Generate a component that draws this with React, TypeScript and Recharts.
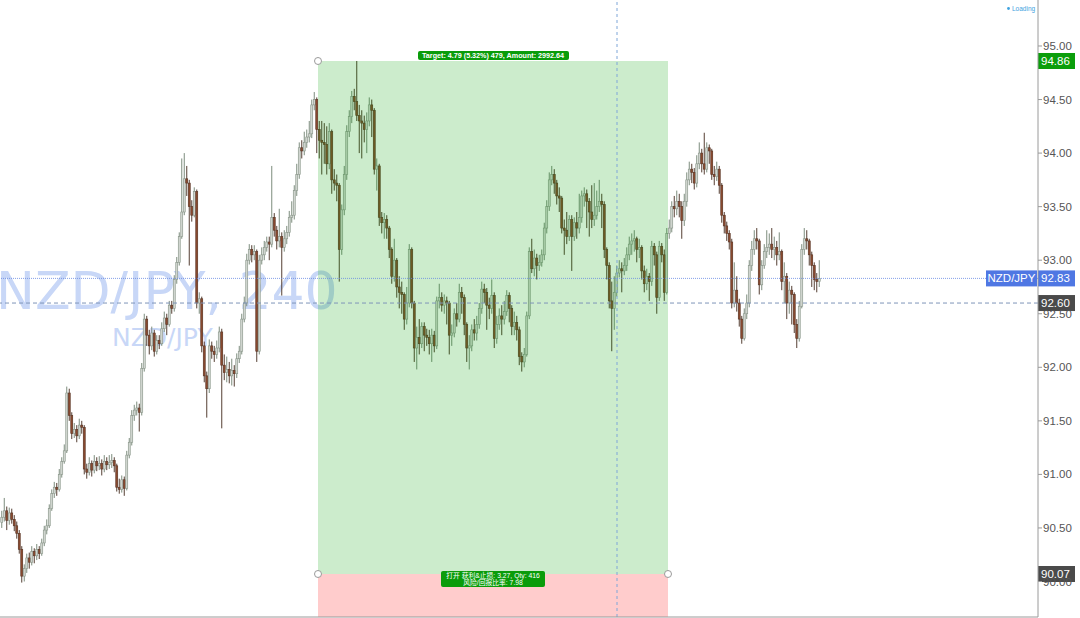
import React from "react";
import {
  ComposedChart,
  Bar,
  XAxis,
  YAxis,
  ReferenceArea,
  ReferenceLine,
  ReferenceDot,
} from "recharts";

// NZD/JPY 240 candles (approximate)
const opens = [
  90.55, 90.6, 90.66, 90.57, 90.64, 90.58, 90.52, 90.45, 90.3, 90.05,
  90.12, 90.22, 90.18, 90.28, 90.24, 90.3, 90.26, 90.36, 90.48, 90.52,
  90.68, 90.82, 90.88, 90.86, 91.0, 91.12, 91.22, 91.76, 91.55, 91.38,
  91.42, 91.36, 91.46, 91.44, 91.05, 91.02, 91.1, 91.04, 91.12, 91.08,
  91.1, 91.05, 91.12, 91.09, 91.11, 91.13, 91.08, 90.88, 90.86, 90.95,
  90.87, 91.18, 91.3, 91.55, 91.6, 91.62, 91.58, 91.99, 92.45, 92.3,
  92.2, 92.32, 92.15, 92.25, 92.22, 92.36, 92.46, 92.4, 92.58, 92.55,
  92.82, 92.98, 93.22, 93.45, 93.76, 93.72, 93.5, 93.42, 93.64, 92.6,
  92.64, 92.2, 91.92, 91.8, 92.2, 92.15, 92.12, 92.18, 92.33, 92.02,
  91.95, 91.98, 91.92, 91.97, 91.94, 92.08, 92.15, 92.45, 92.6, 93.0,
  93.1, 93.05, 93.08, 92.15, 93.0, 93.05, 93.12, 93.17, 93.15, 93.4,
  93.28, 93.18, 93.22, 93.12, 93.2, 93.26, 93.4, 93.42, 93.65, 93.8,
  94.05, 94.02, 94.1, 94.15, 94.18, 94.45, 94.5, 94.22, 94.12, 94.1,
  94.08, 93.9, 94.2, 93.75, 93.72, 93.7, 93.1, 93.47, 93.8, 94.2,
  94.34, 94.53, 94.48, 94.35, 94.3, 94.28, 94.22, 94.3, 94.45, 94.4,
  93.85, 93.88, 93.4, 93.35, 93.38, 93.3, 93.1, 92.85, 93.0, 92.75,
  92.7, 92.68, 92.45, 92.6, 93.1, 92.6, 92.18, 92.28, 92.22, 92.38,
  92.3, 92.28, 92.22, 92.3, 92.2, 92.62, 92.65, 92.58, 92.62, 92.6,
  92.3, 92.32, 92.5, 92.45, 92.7, 92.65, 92.4, 92.18, 92.2, 92.35,
  92.32, 92.4, 92.55, 92.73, 92.7, 92.58, 92.55, 92.67, 92.27, 92.4,
  92.48, 92.45, 92.52, 92.67, 92.55, 92.38, 92.42, 92.35, 92.1, 92.05,
  92.12, 92.48, 93.08, 92.92, 93.02, 92.95, 92.98, 93.05, 93.3, 93.5,
  93.75, 93.8, 93.72, 93.6, 93.58, 93.3, 93.28, 93.22, 93.38, 93.22,
  93.35, 93.3, 93.4, 93.6, 93.62, 93.55, 93.45, 93.38, 93.42, 93.5,
  93.55, 93.52, 93.1, 92.95, 92.62, 92.55, 92.7, 92.88, 92.92, 92.9,
  92.95, 93.05, 93.15, 93.18, 93.2, 93.1, 93.12, 92.9, 92.78, 92.85,
  92.8, 93.13, 93.05, 92.65, 93.13, 93.05, 92.7, 93.25, 93.3, 93.5,
  93.48, 93.55, 93.5, 93.37, 93.55, 93.75, 93.85, 93.82, 93.72, 93.9,
  94.0, 93.9, 93.85, 94.05, 94.02, 93.8, 93.78, 93.85, 93.7, 93.42,
  93.32, 93.25, 93.17, 92.6, 92.72, 92.6, 92.45, 92.27, 92.5, 92.6,
  92.95, 93.1, 93.2, 93.18, 92.77, 92.95, 93.08, 93.12, 93.15, 93.1,
  93.12, 93.05, 93.08, 92.8, 92.85, 92.6, 92.72, 92.68, 92.4, 92.27,
  92.57, 93.1, 93.2, 93.18, 93.05, 92.95, 92.82, 92.8,
];

const highs = [
  90.66, 90.78, 90.7, 90.69, 90.68, 90.62, 90.56, 90.48, 90.33, 90.16,
  90.26, 90.27, 90.33, 90.31, 90.35, 90.33, 90.4, 90.52, 90.58, 90.72,
  90.86, 90.93, 90.92, 91.05, 91.16, 91.28, 91.82, 91.8, 91.58, 91.48,
  91.46, 91.52, 91.5, 91.46, 91.1, 91.16, 91.13, 91.18, 91.16, 91.17,
  91.14, 91.18, 91.16, 91.18, 91.19, 91.16, 91.1, 90.96, 90.99, 90.98,
  91.22, 91.34, 91.6, 91.65, 91.68, 91.66, 92.04, 92.5, 92.48, 92.35,
  92.38, 92.35, 92.3, 92.3, 92.42, 92.52, 92.5, 92.62, 92.62, 92.86,
  93.03, 93.26, 93.95, 94.0, 93.88, 93.75, 93.56, 93.68, 93.66, 92.7,
  92.66, 92.24, 91.96, 92.26, 92.24, 92.2, 92.25, 92.38, 92.36, 92.12,
  92.1, 92.05, 92.08, 92.02, 92.13, 92.2, 92.5, 92.66, 93.06, 93.15,
  93.14, 93.14, 93.1, 93.05, 93.12, 93.18, 93.22, 93.22, 93.88, 93.44,
  93.32, 93.48, 93.26, 93.28, 93.32, 93.46, 93.55, 93.7, 93.9, 94.1,
  94.12, 94.2, 94.22, 94.3, 94.5, 94.57, 94.52, 94.3, 94.3, 94.28,
  94.25, 94.28, 94.22, 93.85, 93.8, 93.72, 93.52, 93.88, 94.26, 94.4,
  94.58, 94.6, 94.86, 94.45, 94.4, 94.35, 94.38, 94.52, 94.5, 94.42,
  93.95, 93.9, 93.45, 93.44, 93.42, 93.32, 93.12, 93.2, 93.02, 92.85,
  92.8, 92.7, 92.75, 93.15, 93.12, 92.62, 92.38, 92.45, 92.42, 92.42,
  92.36, 92.35, 92.36, 92.34, 92.66, 92.78, 92.7, 92.68, 92.66, 92.62,
  92.4, 92.55, 92.6, 92.78, 92.75, 92.68, 92.42, 92.3, 92.4, 92.45,
  92.48, 92.6, 92.8, 92.78, 92.74, 92.65, 92.82, 92.7, 92.48, 92.55,
  92.58, 92.62, 92.72, 92.7, 92.58, 92.52, 92.48, 92.38, 92.14, 92.18,
  92.52, 93.12, 93.2, 93.1, 93.06, 93.05, 93.1, 93.35, 93.56, 93.82,
  93.88, 93.85, 93.75, 93.68, 93.6, 93.38, 93.45, 93.42, 93.42, 93.4,
  93.45, 93.62, 93.65, 93.68, 93.66, 93.58, 93.7, 93.72, 93.65, 93.75,
  93.62, 93.55, 93.12, 92.98, 92.8, 92.85, 92.95, 93.0, 92.98, 93.02,
  93.12, 93.22, 93.25, 93.28, 93.22, 93.2, 93.14, 92.95, 92.92, 92.88,
  93.18, 93.16, 93.08, 93.18, 93.16, 93.1, 93.3, 93.38, 93.55, 93.6,
  93.65, 93.62, 93.55, 93.62, 93.82, 93.92, 93.9, 93.86, 93.98, 94.1,
  94.04, 94.19, 94.1, 94.08, 94.04, 93.88, 93.92, 93.88, 93.72, 93.45,
  93.36, 93.28, 93.2, 92.98, 92.85, 92.64, 92.48, 92.55, 92.68, 93.0,
  93.18, 93.28, 93.3, 93.2, 93.0, 93.15, 93.28, 93.25, 93.3, 93.22,
  93.18, 93.26, 93.1, 92.98, 92.88, 92.8, 92.76, 92.7, 92.45, 92.62,
  93.15, 93.3, 93.28, 93.2, 93.08, 92.98, 92.88, 93.0,
];

const lows = [
  90.5, 90.56, 90.48, 90.53, 90.54, 90.47, 90.4, 90.26, 89.99, 90.0,
  90.08, 90.12, 90.15, 90.17, 90.2, 90.21, 90.24, 90.33, 90.44, 90.5,
  90.66, 90.78, 90.8, 90.84, 90.97, 91.1, 91.2, 91.5, 91.33, 91.34,
  91.3, 91.33, 91.38, 91.0, 90.96, 90.99, 90.98, 91.01, 91.03, 91.04,
  90.99, 91.02, 91.04, 91.05, 91.06, 91.02, 90.84, 90.82, 90.83, 90.8,
  90.85, 91.15, 91.27, 91.5, 91.55, 91.4, 91.55, 91.96, 92.2, 92.12,
  92.16, 92.1, 92.12, 92.17, 92.2, 92.33, 92.3, 92.38, 92.5, 92.52,
  92.78, 92.95, 93.2, 93.42, 93.6, 92.95, 93.36, 93.4, 92.55, 92.5,
  92.14, 91.86, 91.53, 91.76, 92.08, 92.05, 92.08, 92.14, 91.43, 91.88,
  91.86, 91.85, 91.83, 91.82, 91.9, 92.04, 92.12, 92.42, 92.57, 92.96,
  92.98, 93.0, 92.05, 92.12, 92.96, 93.0, 93.08, 93.0, 93.12, 93.22,
  93.1, 93.12, 92.67, 93.08, 93.15, 93.22, 93.35, 93.38, 93.6, 93.76,
  93.95, 93.98, 94.05, 94.1, 94.14, 94.4, 94.0, 93.95, 93.8, 93.9,
  93.8, 93.85, 93.62, 93.65, 93.55, 92.8, 93.05, 93.42, 93.75, 94.15,
  94.28, 94.4, 94.3, 94.0, 93.95, 94.1, 94.0, 94.25, 94.15, 93.8,
  93.65, 93.32, 93.25, 93.2, 93.2, 93.02, 92.78, 92.8, 92.65, 92.55,
  92.5, 92.35, 92.4, 92.56, 92.55, 92.05, 91.98, 92.12, 92.18, 92.15,
  92.2, 92.12, 92.05, 92.14, 92.17, 92.55, 92.52, 92.5, 92.4, 92.12,
  92.2, 92.28, 92.38, 92.42, 92.5, 92.3, 92.05, 91.98, 92.15, 92.25,
  92.25, 92.36, 92.5, 92.6, 92.35, 92.45, 92.5, 92.18, 92.22, 92.35,
  92.3, 92.4, 92.48, 92.42, 92.3, 92.3, 92.25, 92.02, 91.96, 92.0,
  92.1, 92.45, 92.88, 92.85, 92.82, 92.9, 92.94, 93.0, 93.25, 93.46,
  93.7, 93.62, 93.52, 93.45, 93.25, 93.05, 93.15, 93.18, 92.9, 93.18,
  93.2, 93.25, 93.35, 93.5, 93.3, 93.22, 93.3, 93.32, 93.38, 93.45,
  93.3, 93.02, 92.82, 92.55, 92.15, 92.35, 92.66, 92.84, 92.7, 92.86,
  92.9, 93.0, 93.05, 93.08, 92.98, 93.02, 92.82, 92.7, 92.72, 92.62,
  92.76, 92.95, 92.5, 92.62, 92.98, 92.62, 92.68, 93.2, 93.26, 93.4,
  93.42, 93.4, 93.2, 93.32, 93.5, 93.7, 93.72, 93.66, 93.68, 93.85,
  93.82, 93.8, 93.82, 93.9, 93.75, 93.7, 93.74, 93.62, 93.35, 93.25,
  93.18, 93.1, 92.55, 92.56, 92.52, 92.38, 92.22, 92.25, 92.45, 92.56,
  92.9, 93.05, 93.1, 92.68, 92.72, 92.92, 93.02, 93.05, 93.02, 93.0,
  92.95, 93.0, 92.72, 92.6, 92.45, 92.5, 92.4, 92.32, 92.18, 92.24,
  92.55, 93.05, 93.1, 92.95, 92.75, 92.72, 92.7, 92.75,
];

const closes = [
  90.6, 90.66, 90.57, 90.64, 90.58, 90.52, 90.45, 90.3, 90.05, 90.12,
  90.22, 90.18, 90.28, 90.24, 90.3, 90.26, 90.36, 90.48, 90.52, 90.68,
  90.82, 90.88, 90.86, 91.0, 91.12, 91.22, 91.76, 91.55, 91.38, 91.42,
  91.36, 91.46, 91.44, 91.05, 91.02, 91.1, 91.04, 91.12, 91.08, 91.1,
  91.05, 91.12, 91.09, 91.11, 91.13, 91.08, 90.88, 90.86, 90.95, 90.87,
  91.18, 91.3, 91.55, 91.6, 91.62, 91.58, 91.99, 92.45, 92.3, 92.2,
  92.32, 92.15, 92.25, 92.22, 92.36, 92.46, 92.4, 92.58, 92.55, 92.82,
  92.98, 93.22, 93.45, 93.76, 93.72, 93.5, 93.42, 93.64, 92.6, 92.64,
  92.2, 91.92, 91.8, 92.2, 92.15, 92.12, 92.18, 92.33, 92.02, 91.95,
  91.98, 91.92, 91.97, 91.94, 92.08, 92.15, 92.45, 92.6, 93.0, 93.1,
  93.05, 93.08, 92.15, 93.0, 93.05, 93.12, 93.17, 93.15, 93.4, 93.28,
  93.18, 93.22, 93.12, 93.2, 93.26, 93.4, 93.42, 93.65, 93.8, 94.05,
  94.02, 94.1, 94.15, 94.18, 94.45, 94.5, 94.22, 94.12, 94.1, 94.08,
  93.9, 94.2, 93.75, 93.72, 93.7, 93.1, 93.47, 93.8, 94.2, 94.34,
  94.53, 94.48, 94.35, 94.3, 94.28, 94.22, 94.3, 94.45, 94.4, 93.85,
  93.88, 93.4, 93.35, 93.38, 93.3, 93.1, 92.85, 93.0, 92.75, 92.7,
  92.68, 92.45, 92.6, 93.1, 92.6, 92.18, 92.28, 92.22, 92.38, 92.3,
  92.28, 92.22, 92.3, 92.2, 92.62, 92.65, 92.58, 92.62, 92.6, 92.3,
  92.32, 92.5, 92.45, 92.7, 92.65, 92.4, 92.18, 92.2, 92.35, 92.32,
  92.4, 92.55, 92.73, 92.7, 92.58, 92.55, 92.67, 92.27, 92.4, 92.48,
  92.45, 92.52, 92.67, 92.55, 92.38, 92.42, 92.35, 92.1, 92.05, 92.12,
  92.48, 93.08, 92.92, 93.02, 92.95, 92.98, 93.05, 93.3, 93.5, 93.75,
  93.8, 93.72, 93.6, 93.58, 93.3, 93.28, 93.22, 93.38, 93.22, 93.35,
  93.3, 93.4, 93.6, 93.62, 93.55, 93.45, 93.38, 93.42, 93.5, 93.55,
  93.52, 93.1, 92.95, 92.62, 92.55, 92.7, 92.88, 92.92, 92.9, 92.95,
  93.05, 93.15, 93.18, 93.2, 93.1, 93.12, 92.9, 92.78, 92.85, 92.8,
  93.13, 93.05, 92.65, 93.13, 93.05, 92.7, 93.25, 93.3, 93.5, 93.48,
  93.55, 93.5, 93.37, 93.55, 93.75, 93.85, 93.82, 93.72, 93.9, 94.0,
  93.9, 93.85, 94.05, 94.02, 93.8, 93.78, 93.85, 93.7, 93.42, 93.32,
  93.25, 93.17, 92.6, 92.72, 92.6, 92.45, 92.27, 92.5, 92.6, 92.95,
  93.1, 93.2, 93.18, 92.77, 92.95, 93.08, 93.12, 93.15, 93.1, 93.12,
  93.05, 93.08, 92.8, 92.85, 92.6, 92.72, 92.68, 92.4, 92.27, 92.57,
  93.1, 93.2, 93.18, 93.05, 92.95, 92.82, 92.8, 92.83,
];

const priceTicks = [90, 90.5, 91, 91.5, 92, 92.5, 93, 93.5, 94, 94.5, 95];

// position tool: entry / target, and the crosshair / last price levels
const TARGET = 94.86;
const ENTRY = 90.07;
const LAST = 92.83;
const CROSS_Y = 92.6;
const CROSS_X = 246;
const ZONE_FROM = 126.4;
const ZONE_TO = 266.4;

const Y_MIN = 89.6685;
const Y_MAX = 95.4295;

const data = closes.map((c, i) => ({
  i,
  open: opens[i],
  high: highs[i],
  low: lows[i],
  close: c,
}));

const FONT = "'Liberation Sans', Arial, 'Noto Sans CJK SC', sans-serif";

function Candle(props: any) {
  const { x, y, width, height, payload } = props;
  if (x == null || y == null || !payload) return null;
  const { open, close, high, low } = payload;
  const top = Math.min(y, y + height);
  const h = Math.abs(height);
  const k = high > low ? h / (high - low) : 0;
  const py = (p: number) => top + (high - p) * k;
  const cx = x + width / 2;
  const up = close >= open;
  const bodyTop = py(Math.max(open, close));
  const bodyH = Math.max(1, Math.abs(py(open) - py(close)));
  return (
    <g>
      <line x1={cx} x2={cx} y1={top} y2={top + h} stroke={up ? "#7c8c7d" : "#553f33"} strokeWidth={1} />
      <rect
        x={cx - 1}
        y={bodyTop}
        width={2}
        height={bodyH}
        fill={up ? "#d3d8d2" : "#8a4a30"}
        stroke={up ? "#889488" : "#573424"}
        strokeWidth={0.6}
      />
    </g>
  );
}

function PriceTag({ viewBox, text, bg }: any) {
  if (!viewBox) return null;
  const x = viewBox.x + viewBox.width;
  const y = viewBox.y;
  return (
    <g>
      <rect x={x} y={y - 8} width={37} height={16} fill={bg} />
      <text x={x + 3} y={y + 4} fill="#fff" fontSize={11.5} fontFamily={FONT}>
        {text}
      </text>
    </g>
  );
}

function LastTag({ viewBox }: any) {
  if (!viewBox) return null;
  const x = viewBox.x + viewBox.width;
  const y = viewBox.y;
  return (
    <g>
      <rect x={x - 52} y={y - 8} width={51} height={16} fill="#4f77e3" />
      <text x={x - 26.5} y={y + 4} fill="#fff" fontSize={11.5} textAnchor="middle" fontFamily={FONT}>
        NZD/JPY
      </text>
      <rect x={x} y={y - 8} width={37} height={16} fill="#4f77e3" />
      <text x={x + 3} y={y + 4} fill="#fff" fontSize={11.5} fontFamily={FONT}>
        {LAST.toFixed(2)}
      </text>
    </g>
  );
}

function TargetLabel({ viewBox }: any) {
  if (!viewBox) return null;
  const cx = viewBox.x + viewBox.width / 2;
  const y = viewBox.y;
  return (
    <g>
      <rect x={cx - 75} y={y - 10} width={151} height={9} rx={2} fill="#0a9c0a" />
      <text
        x={cx}
        y={y - 3}
        fill="#fff"
        fontSize={7}
        fontWeight="bold"
        textAnchor="middle"
        textLength={142}
        lengthAdjust="spacingAndGlyphs"
        fontFamily={FONT}
      >
        Target: 4.79 (5.32%) 479, Amount: 2992.64
      </text>
    </g>
  );
}

function StopLabel({ viewBox }: any) {
  if (!viewBox) return null;
  const cx = viewBox.x + viewBox.width / 2;
  const y = viewBox.y;
  return (
    <g>
      <rect x={cx - 52} y={y - 3} width={104} height={16} rx={2} fill="#0a9c0a" />
      <text x={cx} y={y + 4} fill="#fff" fontSize={6.8} textAnchor="middle" fontFamily={FONT}>
        打开 获利&amp;止损: 3.27, Qty: 416
      </text>
      <text x={cx} y={y + 11} fill="#fff" fontSize={6.8} textAnchor="middle" fontFamily={FONT}>
        风险/回报比率: 7.98
      </text>
    </g>
  );
}

export default function App() {
  return (
    <div style={{ position: "fixed", left: 0, top: 0, width: 1080, height: 618, background: "#fff", fontFamily: FONT }}>
      {/* watermark + loading badge sit behind the chart */}
      <svg width={1080} height={618} style={{ position: "absolute", left: 0, top: 0 }}>
        <text x={-4} y={309} fontSize={52} fontFamily="'DejaVu Sans', Verdana, sans-serif" fill="#c8d7f7">
          NZD/JPY, 240
        </text>
        <text x={112} y={346} fontSize={25} fontFamily="'DejaVu Sans', Verdana, sans-serif" fill="#c8d7f7">
          NZD/JPY
        </text>
        <circle cx={1008.5} cy={8.5} r={1.4} fill="#3fa3e0" />
        <text x={1012} y={11} fontSize={6.5} fill="#3fa3e0" fontFamily={FONT}>
          Loading
        </text>
      </svg>
      <div style={{ position: "absolute", left: 0, top: 0 }}>
        <ComposedChart width={1080} height={618} data={data} margin={{ top: 0, right: 0, bottom: 0, left: 0 }}>
          <XAxis
            type="number"
            dataKey="i"
            domain={[-0.8, 414.4]}
            allowDataOverflow
            tick={false}
            tickLine={false}
            axisLine={{ stroke: "#9a9a9a" }}
            height={1}
          />
          <YAxis
            orientation="right"
            width={42}
            domain={[Y_MIN, Y_MAX]}
            allowDataOverflow
            ticks={priceTicks}
            interval={0}
            tickFormatter={(v: number) => v.toFixed(2)}
            tick={{ fill: "#555", fontSize: 11.5, fontFamily: FONT }}
            tickSize={4}
            tickMargin={1}
            axisLine={{ stroke: "#9a9a9a" }}
            tickLine={{ stroke: "#9a9a9a" }}
          />
          <Bar
            dataKey={(d: any) => [d.low, d.high]}
            barSize={2}
            shape={<Candle />}
            isAnimationActive={false}
          />
          <ReferenceArea
            x1={ZONE_FROM}
            x2={ZONE_TO}
            y1={ENTRY}
            y2={TARGET}
            fill="#00a000"
            fillOpacity={0.2}
            stroke="none"
            ifOverflow="visible"
            zIndex={350}
            label={<TargetLabel />}
          />
          <ReferenceArea
            x1={ZONE_FROM}
            x2={ZONE_TO}
            y1={Y_MIN}
            y2={ENTRY}
            fill="#ff0000"
            fillOpacity={0.2}
            stroke="none"
            ifOverflow="visible"
            zIndex={350}
          />
          <ReferenceLine x={CROSS_X} stroke="#7ea6d8" strokeDasharray="3 3" ifOverflow="visible" zIndex={400} />
          <ReferenceLine y={LAST} stroke="#6688e2" strokeDasharray="1 1" strokeWidth={0.8} ifOverflow="visible" zIndex={400} label={<LastTag />} />
          <ReferenceLine y={CROSS_Y} stroke="#7f95b8" strokeDasharray="4 3" ifOverflow="visible" zIndex={400} label={<PriceTag text="92.60" bg="#4a4a4a" />} />
          <ReferenceLine y={TARGET} stroke="none" ifOverflow="visible" zIndex={400} label={<PriceTag text="94.86" bg="#0b9e0b" />} />
          <ReferenceLine y={ENTRY} stroke="none" ifOverflow="visible" zIndex={400} label={<PriceTag text="90.07" bg="#4a4a4a" />} />
          <ReferenceArea
            x1={ZONE_FROM}
            x2={ZONE_TO}
            y1={ENTRY}
            y2={ENTRY + 0.001}
            fill="none"
            stroke="none"
            ifOverflow="visible"
            zIndex={420}
            label={<StopLabel />}
          />
          <ReferenceDot x={ZONE_FROM} y={TARGET} r={3.5} fill="#fff" stroke="#9a9a9a" ifOverflow="visible" zIndex={450} />
          <ReferenceDot x={ZONE_FROM} y={ENTRY} r={3.5} fill="#fff" stroke="#9a9a9a" ifOverflow="visible" zIndex={450} />
          <ReferenceDot x={ZONE_TO} y={ENTRY} r={3.5} fill="#fff" stroke="#9a9a9a" ifOverflow="visible" zIndex={450} />
        </ComposedChart>
      </div>
    </div>
  );
}
